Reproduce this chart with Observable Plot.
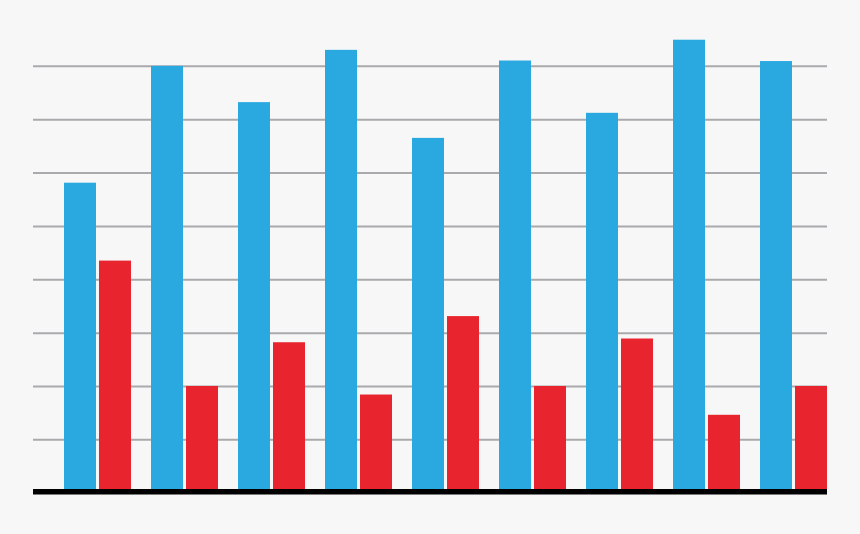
<!DOCTYPE html>
<html>
<head>
<meta charset="utf-8">
<script src="https://cdn.jsdelivr.net/npm/d3@7"></script>
<script src="https://cdn.jsdelivr.net/npm/@observablehq/plot@0.6"></script>
<style>
  html, body { margin: 0; padding: 0; background: #f7f7f7; }
  #chart svg { display: block; background: #f7f7f7; }
</style>
</head>
<body>
<div id="chart"></div>
<script>
const categories = ["1", "2", "3", "4", "5", "6", "7", "8", "9"];
const blueValues = [5.81, 8.0, 7.32, 8.3, 6.65, 8.1, 7.12, 8.49, 8.09];
const redValues = [4.35, 2.0, 2.82, 1.84, 3.31, 2.0, 2.89, 1.46, 2.0];
const gridTicks = [1, 2, 3, 4, 5, 6, 7, 8];

const data = categories.map((c, i) => ({ cat: c, blue: blueValues[i], red: redValues[i] }));

const chart = Plot.plot({
  width: 860,
  height: 534,
  marginLeft: 33,
  marginRight: 33,
  marginTop: 12.5,
  marginBottom: 41.3,
  style: { background: "#f7f7f7" },
  x: { domain: categories, axis: null, paddingInner: 0.234, paddingOuter: 0.175, align: 1 },
  y: { domain: [0, 9], axis: null },
  marks: [
    Plot.ruleY(gridTicks, { stroke: "#aaaaae", strokeWidth: 2 }),
    Plot.barY(data, { x: "cat", y: "blue", fill: "#29a9e0", insetRight: 35 }),
    Plot.barY(data, { x: "cat", y: "red", fill: "#e8252e", insetLeft: 35 }),
    Plot.ruleY([0], { stroke: "#000000", strokeWidth: 5.5, dy: -1.4 })
  ]
});
document.getElementById("chart").appendChild(chart);
</script>
</body>
</html>
